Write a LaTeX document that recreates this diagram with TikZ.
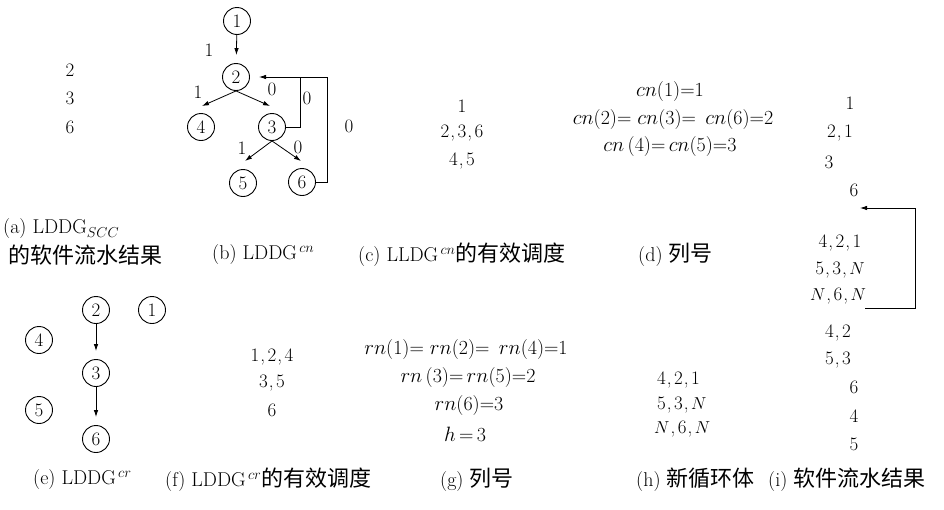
\documentclass[tikz,border=0pt]{standalone}
\usepackage{fontspec}
\newfontfamily\cjk{Noto Sans CJK SC}
\usetikzlibrary{arrows.meta}
\tikzset{
  txt/.style={font=\fontsize{19}{22}\selectfont, inner sep=0pt},
  mth/.style={font=\fontsize{20}{22}\selectfont, inner sep=0pt},
  captxt/.style={font=\fontsize{20}{22}\selectfont, inner sep=0pt, anchor=west},
  vtx/.style={circle, draw, line width=0.9pt, minimum size=27pt, inner sep=0pt, font=\fontsize{19}{22}\selectfont},
  arr/.style={-{Latex[length=7pt,width=4.5pt]}, line width=0.8pt},
  ln/.style={line width=0.8pt}
}
\newcommand{\cj}[1]{{\cjk\fontsize{22}{24}\selectfont #1}}
\newcommand{\cma}{\kern1pt,\kern2.5pt}
\begin{document}
\begin{tikzpicture}[x=1pt,y=-1pt]
\useasboundingbox (0,0) rectangle (944,509);
% (a)
\node[txt] (a2) at (70,70) {2};
\node[txt] (a3) at (70,98) {3};
\node[txt] (a6) at (70,127) {6};
\node[captxt] (capa1) at (3,229) {(a)\ LDDG$_{SCC}$};
\node[captxt] (capa2) at (8,255) {\cj{的软件流水结果}};
% (b) graph
\node[vtx] (b1) at (237,21) {1};
\node[vtx] (b2) at (236,77) {2};
\node[vtx] (b4) at (201,127) {4};
\node[vtx] (b3) at (272,127) {3};
\node[vtx] (b5) at (243,183) {5};
\node[vtx] (b6) at (302,182) {6};
\draw[arr, shorten >=8pt] (b1) -- (b2);
\coordinate (t4) at (202,106);
\coordinate (t3) at (270,106);
\coordinate (t5) at (245,161);
\coordinate (t6) at (301,161);
\draw[arr] (b2.south) -- (t4);
\draw[arr] (b2.south) -- (t3);
\draw[arr] (b3.south) -- (t5);
\draw[arr] (b3.south) -- (t6);
\coordinate (k1) at (300,77);
\coordinate (k2) at (327,77);
\coordinate (tip2) at (259,77);
\draw[ln] (b3.east) -| (k1);
\draw[arr] (b6.east) -| (k2) -- (tip2);
\node[txt] (l1) at (209,50) {1};
\node[txt] (l2) at (198,92) {1};
\node[txt] (l3) at (272,89) {0};
\node[txt] (l4) at (307,98) {0};
\node[txt] (l5) at (349,126) {0};
\node[txt] (l6) at (242,148) {1};
\node[txt] (l7) at (298,147) {0};
\node[captxt] (capb) at (212,255) {(b)\ LDDG$^{\,cn}$};
% (c)
\node[txt] (c1) at (462,106) {1};
\node[txt] (c2) at (462,133) {2\cma3\cma6};
\node[txt] (c3) at (462,161) {4\cma5};
\node[captxt] (capc) at (358,255) {(c)\ LLDG$^{\,cn}$\cj{的有效调度}};
% (d)
\node[mth] (d1) at (670,92) {$cn$(1)=1};
\node[mth] (d2) at (673,120) {$cn$(2)=\ $cn$(3)=\ \,$cn$(6)=2};
\node[mth] (d3) at (670,147) {$cn$\,(4)=\,$cn$(5)=3};
\node[captxt] (capd) at (638,255) {(d)\ \cj{列号}};
% (e)
\node[vtx] (e2) at (96,310) {2};
\node[vtx] (e1) at (152,310) {1};
\node[vtx] (e4) at (39,340) {4};
\node[vtx] (e3) at (96,373) {3};
\node[vtx] (e5) at (39,410) {5};
\node[vtx] (e6) at (96,439) {6};
\draw[arr, shorten >=8pt] (e2) -- (e3);
\draw[arr, shorten >=8pt] (e3) -- (e6);
\node[captxt] (cape) at (33,480) {(e)\ LDDG$^{\,cr}$};
% (f)
\node[txt] (f1) at (272,357) {1\cma2\cma4};
\node[txt] (f2) at (272,383) {3\cma5};
\node[txt] (f3) at (272,410) {6};
\node[captxt] (capf) at (165,480) {(f)\ LDDG$^{\,cr}$\cj{的有效调度}};
% (g)
\node[mth] (g1) at (466,350) {$rn$(1)=\ $rn$(2)=\ \,$rn$(4)=1};
\node[mth] (g2) at (468,378) {$rn$\,(3)=\,$rn$(5)=2};
\node[mth] (g3) at (469,406) {$rn$(6)=3};
\node[mth] (g4) at (465,434) {$h$\,=\,3};
\node[captxt] (capg) at (440,480) {(g)\ \cj{列号}};
% (h)
\node[txt, anchor=west] (h1) at (657,380) {4\cma2\cma1};
\node[txt, anchor=west] (h2) at (657,405) {5\cma3\cma$N$};
\node[txt, anchor=west] (h3) at (654,429) {$N$\cma6\cma$N$};
\node[captxt] (caph) at (636,480) {(h)\ \cj{新循环体}};
% (i)
\node[txt] (i1) at (850,103) {1};
\node[txt] (i2) at (840,133) {2\cma1};
\node[txt] (i3) at (829,162) {3};
\node[txt] (i4) at (854,190) {6};
\node[txt] (i5) at (840,243) {4\cma2\cma1};
\node[txt] (i6) at (840,270) {5\cma3\cma$N$};
\node[txt] (i7) at (838,296) {$N$\cma6\cma$N$};
\node[txt] (i8) at (838,333) {4\cma2};
\node[txt] (i9) at (838,360) {5\cma3};
\node[txt] (i10) at (854,387) {6};
\node[txt] (i11) at (854,416) {4};
\node[txt] (i12) at (854,444) {5};
\coordinate (r1) at (865,308);
\coordinate (r2) at (915,308);
\coordinate (r3) at (915,208);
\coordinate (r4) at (860,208);
\draw[arr] (r1) -- (r2) -- (r3) -- (r4);
\node[captxt] (capi) at (768,480) {(i)\ \cj{软件流水结果}};
\end{tikzpicture}
\end{document}
